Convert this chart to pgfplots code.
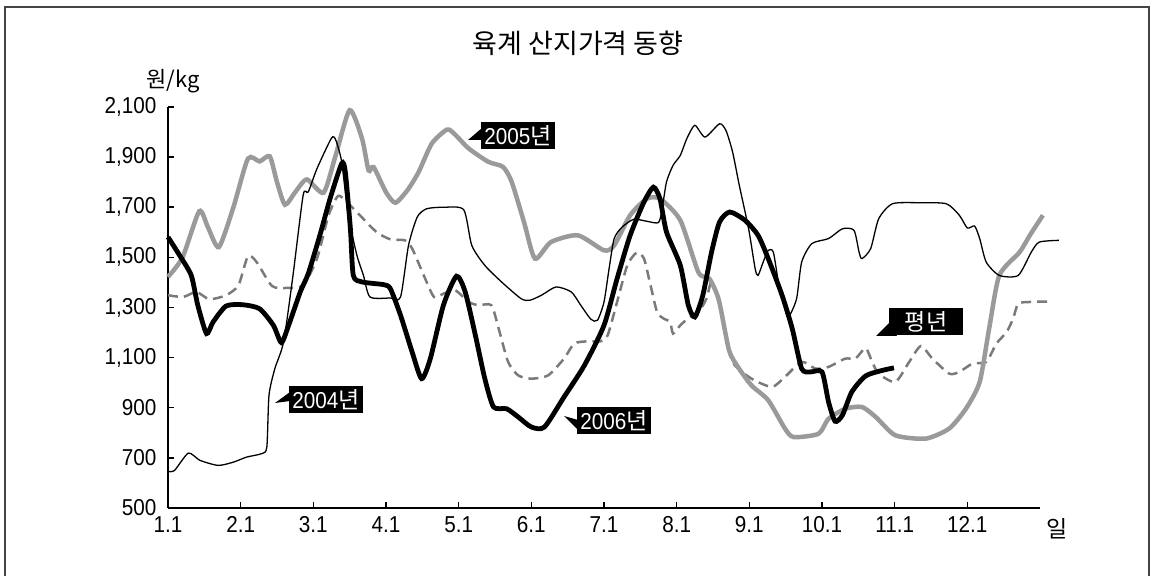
\documentclass[border=0pt]{standalone}
\usepackage{fontspec}
\setmainfont{Liberation Sans}
\newfontfamily\num[FakeStretch=0.9]{Liberation Sans}
\newfontfamily\kr{Noto Sans CJK KR}
\usepackage{pgfplots}
\pgfplotsset{compat=1.18}

\definecolor{gray05}{HTML}{9A9A9A}
\definecolor{grayavg}{HTML}{7A7A7A}
\definecolor{framec}{HTML}{444444}

% x: months after 1 Jan (0 = 1.1, 11 = 12.1), y: won/kg
\pgfplotstableread{
x y
0 646
0.09 650
0.28 719
0.44 690
0.69 670
0.90 683
1.08 703
1.29 717
1.36 743
1.39 950
1.47 1056
1.59 1162
1.72 1428
1.86 1748
1.93 1761
2.05 1854
2.25 1976
2.31 1967
2.39 1881
2.48 1668
2.60 1508
2.69 1428
2.78 1342
3.06 1338
3.20 1342
3.31 1548
3.43 1661
3.56 1694
3.80 1700
4.07 1690
4.18 1548
4.36 1468
4.59 1402
4.86 1335
4.98 1329
5.14 1349
5.34 1382
5.55 1362
5.68 1309
5.82 1253
5.91 1249
6.00 1322
6.07 1455
6.14 1575
6.25 1621
6.41 1652
6.59 1644
6.75 1639
6.80 1694
6.86 1801
6.95 1867
7.05 1907
7.14 1974
7.25 2027
7.39 1980
7.59 2033
7.68 2005
7.77 1920
7.86 1790
7.99 1614
8.08 1455
8.12 1428
8.19 1481
8.26 1528
8.33 1521
8.40 1402
8.49 1295
8.54 1262
8.65 1335
8.72 1481
8.86 1555
9.09 1575
9.28 1614
9.44 1608
9.51 1521
9.55 1495
9.67 1535
9.78 1654
9.97 1714
10.34 1718
10.71 1714
10.89 1668
11.00 1617
11.10 1625
11.17 1575
11.26 1481
11.44 1428
11.70 1428
11.88 1521
11.99 1561
12.26 1568
}\yrA

\pgfplotstableread{
x y
0 1422
0.20 1500
0.43 1684
0.55 1620
0.70 1541
0.90 1700
1.10 1894
1.26 1883
1.40 1903
1.50 1800
1.61 1710
1.75 1760
1.91 1811
2.14 1758
2.30 1900
2.50 2087
2.67 1974
2.76 1847
2.83 1860
3.00 1760
3.13 1718
3.30 1770
3.45 1841
3.63 1954
3.84 2010
3.95 1990
4.14 1934
4.41 1881
4.61 1861
4.73 1801
4.90 1640
5.05 1495
5.27 1561
5.64 1588
6.00 1528
6.14 1548
6.36 1668
6.59 1734
6.77 1734
7.05 1648
7.30 1440
7.45 1415
7.58 1330
7.72 1130
7.85 1060
8.03 989
8.26 930
8.49 817
8.61 783
8.95 796
9.09 856
9.32 896
9.55 903
9.74 863
10.01 790
10.43 777
10.75 817
10.98 896
11.17 1003
11.30 1216
11.44 1428
11.72 1521
11.86 1588
12.04 1668
}\yrB

\pgfplotstableread{
x y
0 1581
0.16 1508
0.32 1428
0.41 1309
0.53 1196
0.62 1242
0.80 1306
1.03 1311
1.26 1295
1.45 1229
1.56 1160
1.66 1229
1.82 1362
1.93 1435
2.09 1588
2.23 1734
2.39 1874
2.44 1841
2.51 1614
2.55 1428
2.67 1402
2.97 1391
3.06 1375
3.20 1269
3.36 1122
3.49 1016
3.61 1096
3.79 1309
3.97 1425
4.09 1362
4.23 1189
4.36 1016
4.48 903
4.66 896
4.82 863
5.00 823
5.18 823
5.45 943
5.73 1069
6.00 1229
6.18 1415
6.36 1588
6.55 1721
6.68 1780
6.77 1734
6.86 1601
7.05 1468
7.16 1309
7.25 1262
7.36 1349
7.48 1521
7.59 1641
7.73 1681
7.94 1648
8.12 1588
8.26 1495
8.45 1349
8.59 1216
8.72 1056
8.84 1043
9.00 1043
9.09 923
9.18 846
9.28 870
9.41 963
9.60 1027
9.83 1049
9.99 1059
}\yrC

\pgfplotstableread{
x y
0 1349
0.21 1342
0.39 1362
0.57 1333
0.80 1349
0.97 1389
1.10 1505
1.22 1481
1.43 1386
1.63 1378
1.86 1389
2.05 1495
2.21 1668
2.34 1745
2.46 1721
2.64 1668
2.87 1601
3.06 1572
3.26 1568
3.36 1535
3.52 1428
3.66 1342
3.79 1355
3.95 1369
4.14 1322
4.27 1309
4.45 1309
4.55 1216
4.68 1083
4.82 1029
5.00 1016
5.23 1029
5.45 1096
5.59 1156
5.77 1165
5.95 1165
6.05 1189
6.18 1322
6.32 1468
6.45 1519
6.55 1495
6.64 1389
6.73 1282
6.82 1256
6.91 1242
6.95 1196
7.05 1229
7.18 1262
7.30 1282
7.41 1335
7.48 1402
7.59 1322
7.71 1135
7.80 1069
8.03 1016
8.31 983
8.49 1023
8.72 1083
8.91 1056
9.09 1063
9.32 1096
9.46 1096
9.60 1138
9.69 1083
9.78 1036
10.01 1003
10.20 1083
10.36 1146
10.52 1096
10.75 1036
10.89 1043
11.07 1076
11.26 1083
11.40 1156
11.54 1202
11.63 1256
11.70 1315
11.86 1322
12.16 1324
}\avg

\begin{document}
\begin{tikzpicture}[x=1pt,y=1pt]
\path[use as bounding box] (0,0) rectangle (1155,575);
\draw[framec, line width=2pt] (5,-2) -- (5,568) -- (1149,568) -- (1149,-2);

\begin{axis}[
  at={(168pt,67pt)}, anchor=south west,
  scale only axis, width=872pt, height=401pt,
  xmin=0, xmax=12, ymin=500, ymax=2100,
  axis lines=left, axis line style={-, line width=2pt},
  clip=false,
  xtick={0,...,11},
  xticklabels={1.1,2.1,3.1,4.1,5.1,6.1,7.1,8.1,9.1,10.1,11.1,12.1},
  ytick={500,700,...,2100},
  tick align=inside, major tick length=6pt,
  tick style={line width=1.5pt, black},
  tick label style={font=\num\fontsize{23}{26}\selectfont},
  yticklabel style={xshift=-8pt},
  xticklabel style={yshift=-5pt},
  /pgf/number format/assume math mode=true,
  /pgf/number format/1000 sep={,},
]
\addplot[grayavg, line width=2.5pt, dash pattern=on 10pt off 6pt, smooth, tension=0.4] table {\avg};
\addplot[gray05, line width=4.5pt, smooth, tension=0.4] table {\yrB};
\addplot[black, line width=1.3pt, smooth, tension=0.4] table {\yrA};
\addplot[black, line width=4.8pt, smooth, tension=0.4] table {\yrC};
\end{axis}

% title and units
\node[font=\kr\fontsize{27}{30}\selectfont] at (578,532) {육계 산지가격 동향};
\node[font=\kr\fontsize{22}{26}\selectfont] at (173,494) {원/kg};
\node[font=\kr\fontsize{23}{26}\selectfont] at (1057,46) {일};

% callouts
\tikzset{callout/.style={fill=black, text=white, inner sep=0pt,
  minimum width=74pt, minimum height=27pt, font=\num\fontsize{23}{26}\selectfont}}
\fill (482,447) -- (468,435) -- (482,435) -- cycle;
\node[callout] at (518,439) {2005{\kr 년}};
\fill (290,183) -- (275,172) -- (290,174) -- cycle;
\node[callout] at (326,175) {2004{\kr 년}};
\fill (578,155) -- (564,159) -- (578,145) -- cycle;
\node[callout] at (614,154) {2006{\kr 년}};
\fill (890,253) -- (876,239) -- (897,239) -- cycle;
\node[callout] at (926,253) {{\kr 평년}};
\end{tikzpicture}
\end{document}
